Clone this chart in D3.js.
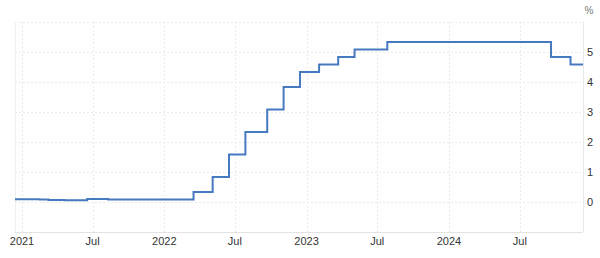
<!DOCTYPE html>
<html><head><meta charset="utf-8">
<script src="https://cdn.jsdelivr.net/npm/d3@7/dist/d3.min.js"></script>
<style>body{margin:0;background:#fff;font-family:"Liberation Sans",Arial,sans-serif}</style>
</head><body><svg id="c" width="600" height="258"></svg>
<script>
const changeDates = ["2020-12-14","2021-02-15","2021-03-10","2021-04-20","2021-06-17","2021-08-10","2022-03-17","2022-05-05","2022-06-16","2022-07-28","2022-09-22","2022-11-03","2022-12-15","2023-02-02","2023-03-23","2023-05-04","2023-07-27","2024-09-19","2024-11-08","2024-12-10"];
const rates = [0.09,0.08,0.07,0.06,0.10,0.08,0.33,0.83,1.58,2.33,3.08,3.83,4.33,4.58,4.83,5.08,5.33,4.83,4.58,4.58];
const yTicks = [0,1,2,3,4,5];
const xTickDates = ["2021-01-01","2021-07-01","2022-01-01","2022-07-01","2023-01-01","2023-07-01","2024-01-01","2024-07-01"];
const xTickLabels = ["2021","Jul","2022","Jul","2023","Jul","2024","Jul"];

const parse = d3.utcParse("%Y-%m-%d");
const data = changeDates.map((d,i)=>({date:parse(d), v:rates[i]}));
const svg = d3.select("#c");
const L=15, R=583, T=22, B=232;
const x = d3.scaleUtc().domain([parse("2020-12-14"), parse("2024-12-10")]).range([L,R]);
const y = d3.scaleLinear().domain([-1,6]).range([B,T]);

const g = svg.append("g");
g.selectAll(".hg").data([0,1,2,3,4,5,6]).join("line")
  .attr("x1",L).attr("x2",R).attr("y1",d=>y(d)+0.5).attr("y2",d=>y(d)+0.5)
  .attr("stroke","#ebebeb").attr("stroke-dasharray","2,2");
g.selectAll(".vg").data(xTickDates).join("line")
  .attr("x1",d=>Math.round(x(parse(d)))+0.5).attr("x2",d=>Math.round(x(parse(d)))+0.5)
  .attr("y1",T).attr("y2",B)
  .attr("stroke","#ebebeb").attr("stroke-dasharray","2,2");
g.append("line").attr("x1",L+0.5).attr("x2",L+0.5).attr("y1",T).attr("y2",B).attr("stroke","#efefef");
g.append("line").attr("x1",R+0.5).attr("x2",R+0.5).attr("y1",T).attr("y2",B).attr("stroke","#e8e8e8");
g.append("line").attr("x1",L).attr("x2",R).attr("y1",B+0.5).attr("y2",B+0.5).attr("stroke","#e3e3e3");

const line = d3.line().curve(d3.curveStepAfter).x(d=>x(d.date)).y(d=>y(d.v));
svg.append("path").datum(data).attr("d",line).attr("fill","none")
  .attr("stroke","#4679bf").attr("stroke-width",2);

svg.selectAll(".yl").data(yTicks).join("text")
  .attr("x",590).attr("y",d=>y(d)+4).attr("text-anchor","middle")
  .attr("font-size",11).attr("fill","#333").text(d=>d);
svg.append("text").attr("x",589).attr("y",14).attr("text-anchor","middle")
  .attr("font-size",10).attr("fill","#777").text("%");
svg.selectAll(".xl").data(xTickDates).join("text")
  .attr("x",d=>x(parse(d))).attr("y",245).attr("text-anchor","middle")
  .attr("font-size",11).attr("fill","#333").text((d,i)=>xTickLabels[i]);
</script></body></html>
